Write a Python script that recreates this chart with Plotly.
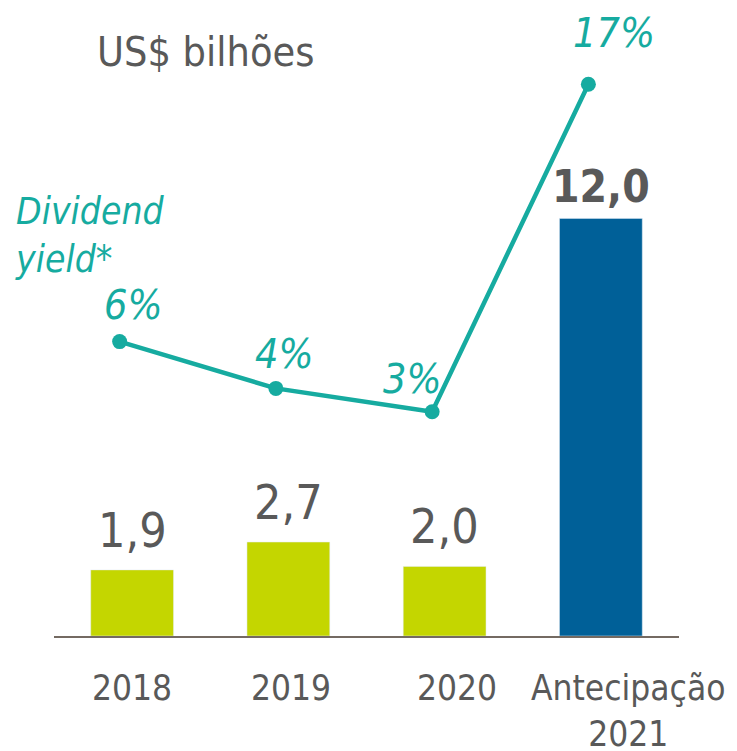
import plotly.graph_objects as go

categories = ["2018", "2019", "2020", "Antecipação<br>2021"]
dividends = [1.9, 2.7, 2.0, 12.0]
dividend_yield = [6, 4, 3, 17]
bar_colors = ["#C4D600", "#C4D600", "#C4D600", "#006098"]

# page body has an 8px margin; figure is sized so it fits the 737x751 window
OFF = 8
W, H = 737 - OFF, 751 - OFF
PLOT_L, PLOT_R, PLOT_T, PLOT_B = 54, 679, OFF, 636  # page pixels
L, R = PLOT_L - OFF, (OFF + W) - PLOT_R
T, B = PLOT_T - OFF, (OFF + H) - PLOT_B
PW, PH = PLOT_R - PLOT_L, PLOT_B - PLOT_T

TEAL = "#16ABA0"
GRAY = "#595959"
COND = "DejaVu Sans Condensed, DejaVu Sans, sans-serif"


def px_x(px):
    return (px - PLOT_L) / PW


def px_y(py):
    return (PLOT_B - py) / PH


fig = go.Figure()
fig.add_trace(go.Bar(
    x=list(range(len(categories))), y=dividends, marker_color=bar_colors,
    width=0.53, xaxis="x", yaxis="y", hoverinfo="skip",
))
fig.add_trace(go.Scatter(
    x=list(range(len(categories))), y=dividend_yield, mode="lines+markers",
    line=dict(color=TEAL, width=4.5), marker=dict(color=TEAL, size=15),
    xaxis="x2", yaxis="y2", hoverinfo="skip",
))

ann = []
bar_label_shift = [10, 10, 10, 4]
for i, v in enumerate(dividends):
    txt = f"{v:.1f}".replace(".", ",")
    size = 48
    if i == len(dividends) - 1:
        txt = f"<b>{txt}</b>"
        size = 44
    ann.append(dict(x=i, y=v, xref="x", yref="y", text=txt, showarrow=False,
                    yanchor="bottom", yshift=bar_label_shift[i],
                    font=dict(family=COND, size=size, color=GRAY)))
yield_shift = [(14, 37), (9, 34), (-20, 33), (26, 51)]
for i, v in enumerate(dividend_yield):
    dx, dy = yield_shift[i]
    ann.append(dict(x=i, y=v, xref="x2", yref="y2", text=f"<i>{v}%</i>",
                    showarrow=False, xanchor="center", yanchor="middle",
                    xshift=dx, yshift=dy,
                    font=dict(family=COND, size=41, color=TEAL)))
cat_shift = [0, 3, 12, 27]
for i, c in enumerate(categories):
    ann.append(dict(x=i, y=px_y(666), xref="x", yref="paper", text=c,
                    showarrow=False, xanchor="center", yanchor="top",
                    xshift=cat_shift[i], align="center",
                    font=dict(family=COND, size=35, color=GRAY)))
ann.append(dict(x=px_x(13), y=px_y(188), xref="paper", yref="paper",
                text="<i>Dividend<br>yield*</i>", showarrow=False,
                xanchor="left", yanchor="top", align="left",
                font=dict(family=COND, size=37, color=TEAL)))
ann.append(dict(x=px_x(95), y=px_y(52), xref="paper", yref="paper",
                text="US$ bilhões", showarrow=False,
                xanchor="left", yanchor="middle",
                font=dict(family=COND, size=41, color=GRAY)))

fig.update_layout(
    width=W, height=H, margin=dict(l=L, r=R, t=T, b=B, pad=0),
    paper_bgcolor="white", plot_bgcolor="white", showlegend=False,
    xaxis=dict(range=[-0.5, 3.5], showticklabels=False, showgrid=False,
               zeroline=False, showline=True, linecolor="#746A62",
               linewidth=2, ticks=""),
    xaxis2=dict(range=[-0.42, 3.58], overlaying="x", visible=False),
    yaxis=dict(range=[0, PH / 34.8], visible=False),
    yaxis2=dict(range=[(482 - PLOT_B) / 23.4, (482 - PLOT_T) / 23.4],
                overlaying="y", visible=False),
    annotations=ann,
)
fig.write_html("out.html")
